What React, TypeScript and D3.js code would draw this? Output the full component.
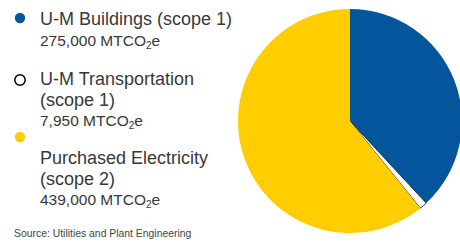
import React from 'react';
import * as d3 from 'd3';

const categories = ['U-M Buildings', 'U-M Transportation', 'Purchased Electricity'];
const scopes = ['(scope 1)', '(scope 1)', '(scope 2)'];
const values = [275000, 7950, 439000];
const colors = ['#03569B', '#ffffff', '#FFCD00'];

const W = 460;
const H = 242;

const App: React.FC = () => {
  const cx = 350;
  const cy = 121;
  const r = 112;

  const pie = d3.pie<number>().sort(null).value(d => d);
  const arcs = pie(values);
  const arc = d3.arc<d3.PieArcDatum<number>>().innerRadius(0).outerRadius(r);
  const fmt = d3.format(',');

  const textColor = '#383838';
  const font = 'Liberation Sans, Arial, Helvetica, sans-serif';

  // legend layout: dot y, first text baseline, lines
  const entries = [
    { dotY: 18, lines: [`${categories[0]} ${scopes[0]}`], baseY: 25 },
    { dotY: 80, lines: [categories[1], scopes[1]], baseY: 85 },
    { dotY: 137, lines: [categories[2], scopes[2]], baseY: 164 },
  ];

  return (
    <svg width={W} height={H} style={{ position: 'absolute', left: 0, top: 0 }} fontFamily={font}>
      <g transform={`translate(${cx},${cy})`}>
        {arcs.map((a, i) => (
          <path
            key={i}
            d={arc(a) || ''}
            fill={colors[i]}
            stroke={i === 1 ? '#000' : 'none'}
            strokeWidth={i === 1 ? 0.8 : 0}
          />
        ))}
      </g>
      {entries.map((e, i) => (
        <g key={i}>
          <circle
            cx={20}
            cy={e.dotY}
            r={5.2}
            fill={colors[i]}
            stroke={i === 1 ? '#000' : 'none'}
            strokeWidth={1.5}
          />
          {e.lines.map((l, j) => (
            <text key={j} x={40} y={e.baseY + j * 20.5} fontSize={18} fill={textColor}>
              {l}
            </text>
          ))}
          <text x={40} y={e.baseY + e.lines.length * 20.5} fontSize={15.5} fill={textColor}>
            {fmt(values[i])} MTCO<tspan fontSize={10} dy={3}>2</tspan>
            <tspan dy={-3}>e</tspan>
          </text>
        </g>
      ))}
      <text x={14} y={237} fontSize={10.4} fill="#444">
        Source: Utilities and Plant Engineering
      </text>
    </svg>
  );
};

export default App;
